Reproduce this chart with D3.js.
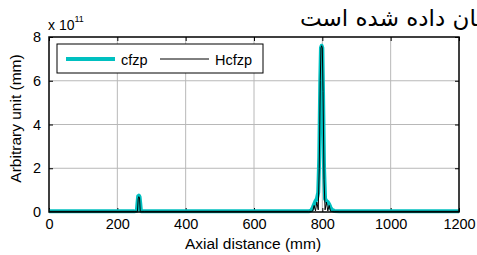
<!DOCTYPE html>
<html>
<head>
<meta charset="utf-8">
<script src="https://cdn.jsdelivr.net/npm/d3@7"></script>
<style>
  body { margin: 0; background: #fff; }
  text { font-family: "Liberation Sans", Arial, sans-serif; }
</style>
</head>
<body>
<svg id="chart" width="477" height="255"></svg>
<script>
// axial positions (mm)
const axial = [0, 250, 257, 259, 261, 263, 265, 267, 269, 271, 280, 760, 768, 772, 776, 780, 784, 788, 791, 794, 796, 798, 800, 802, 805, 808, 812, 816, 820, 824, 828, 835, 850, 1200];
// values in units of 1e11
const cfzp  = [0.03, 0.03, 0.05, 0.4, 0.72, 0.75, 0.7, 0.4, 0.06, 0.03, 0.03, 0.03, 0.08, 0.2, 0.35, 0.5, 0.6, 0.9, 2.5, 6.0, 7.5, 7.6, 7.5, 5.5, 2.0, 0.6, 0.5, 0.45, 0.35, 0.2, 0.1, 0.05, 0.03, 0.03];
const hcfzp = [0.03, 0.03, 0.03, 0.03, 0.6, 0.7, 0.65, 0.03, 0.03, 0.03, 0.03, 0.03, 0.03, 0.05, 0.3, 0.05, 0.45, 0.1, 2.0, 6.0, 7.5, 7.6, 7.5, 5.5, 1.5, 0.1, 0.45, 0.05, 0.3, 0.03, 0.03, 0.03, 0.03, 0.03];
const xTicks = [0, 200, 400, 600, 800, 1000, 1200];
const yTicks = [0, 2, 4, 6, 8];

const svg = d3.select("#chart");
const mLeft = 49, mRight = 459, mTop = 37, mBottom = 212;

const x = d3.scaleLinear().domain([0, 1200]).range([mLeft, mRight]);
const y = d3.scaleLinear().domain([0, 8]).range([mBottom, mTop]);

// grid
svg.append("g").selectAll("line")
    .data(xTicks.slice(1, -1))
    .enter().append("line")
    .attr("x1", d => x(d)).attr("x2", d => x(d))
    .attr("y1", mTop).attr("y2", mBottom)
    .attr("stroke", "#b8b8b8").attr("stroke-width", 1);
svg.append("g").selectAll("line")
    .data(yTicks.slice(1, -1))
    .enter().append("line")
    .attr("x1", mLeft).attr("x2", mRight)
    .attr("y1", d => y(d)).attr("y2", d => y(d))
    .attr("stroke", "#b8b8b8").attr("stroke-width", 1);

// axes with inward ticks
const fmt = d3.format("d");
const gx = svg.append("g").attr("transform", `translate(0,${mBottom})`)
    .call(d3.axisBottom(x).tickValues(xTicks).tickFormat(fmt).tickSizeInner(-4).tickSizeOuter(0).tickPadding(7));
const gxTop = svg.append("g").attr("transform", `translate(0,${mTop})`)
    .call(d3.axisTop(x).tickValues(xTicks).tickSizeInner(-4).tickSizeOuter(0).tickFormat(""));
const gy = svg.append("g").attr("transform", `translate(${mLeft},0)`)
    .call(d3.axisLeft(y).tickValues(yTicks).tickFormat(fmt).tickSizeInner(-4).tickSizeOuter(0).tickPadding(8));
const gyR = svg.append("g").attr("transform", `translate(${mRight},0)`)
    .call(d3.axisRight(y).tickValues(yTicks).tickSizeInner(-4).tickSizeOuter(0).tickFormat(""));

[gx, gxTop, gy, gyR].forEach(g => {
    g.select(".domain").remove();
    g.selectAll("line").attr("stroke", "#000");
    g.selectAll("text").attr("font-size", 14.5).attr("fill", "#000")
        .style("font-family", "Liberation Sans, Arial, sans-serif");
});

// lines
const line = d3.line().x((d, i) => x(axial[i])).y(d => y(d));
svg.append("path").datum(cfzp)
    .attr("d", line).attr("fill", "none")
    .attr("stroke", "#00c0c0").attr("stroke-width", 4).attr("stroke-linejoin", "round");
svg.append("path").datum(hcfzp)
    .attr("d", line).attr("fill", "none")
    .attr("stroke", "#000").attr("stroke-width", 1);

// box
svg.append("rect").attr("x", mLeft).attr("y", mTop)
    .attr("width", mRight - mLeft).attr("height", mBottom - mTop)
    .attr("fill", "none").attr("stroke", "#000").attr("stroke-width", 1.5);

// legend
const lg = svg.append("g");
lg.append("rect").attr("x", 57).attr("y", 44).attr("width", 206).attr("height", 29)
    .attr("fill", "#fff").attr("stroke", "#000").attr("stroke-width", 1);
lg.append("line").attr("x1", 66).attr("x2", 115).attr("y1", 59).attr("y2", 59)
    .attr("stroke", "#00c0c0").attr("stroke-width", 4);
lg.append("text").attr("x", 121).attr("y", 64.5).attr("font-size", 14.5).text("cfzp");
lg.append("line").attr("x1", 160).attr("x2", 209).attr("y1", 59).attr("y2", 59)
    .attr("stroke", "#000").attr("stroke-width", 1);
lg.append("text").attr("x", 215).attr("y", 64.5).attr("font-size", 14.5).text("Hcfzp");

// exponent label
const ex = svg.append("text").attr("x", 48).attr("y", 30).attr("font-size", 14);
ex.append("tspan").text("x 10");
ex.append("tspan").attr("dy", -8).attr("font-size", 9).text("11");

// axis titles
svg.append("text").attr("x", 253).attr("y", 249)
    .attr("text-anchor", "middle").attr("font-size", 15.5).text("Axial distance (mm)");
svg.append("text").attr("transform", `translate(21,${(mTop + mBottom) / 2 - 6}) rotate(-90)`)
    .attr("text-anchor", "middle").attr("font-size", 15.5).text("Arbitrary unit (mm)");

// Persian caption above the chart, cut off at the right edge as in the reference
svg.append("text").attr("x", 300).attr("y", 26)
    .attr("text-anchor", "start").attr("font-size", 23)
    .style("font-family", "DejaVu Sans, sans-serif")
    .text("نشان داده شده است");
</script>
</body>
</html>
